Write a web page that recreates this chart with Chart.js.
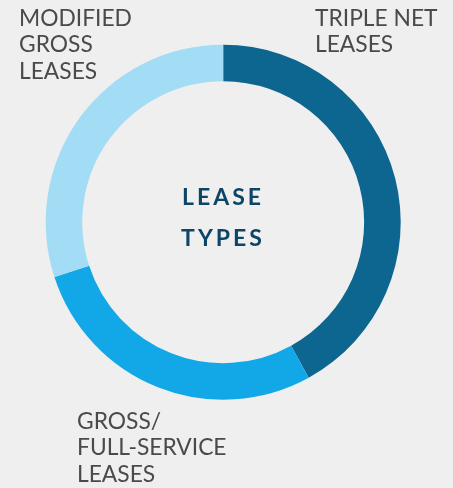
<!DOCTYPE html>
<html>
<head>
<meta charset="utf-8">
<script src="https://cdn.jsdelivr.net/npm/chart.js@4"></script>
<style>
  html, body { margin:0; padding:0; background:#efefef; }
  #wrap { position:relative; width:453px; height:488px; overflow:hidden; }
  canvas { position:absolute; left:0; top:0; }
  .lbl { position:absolute; font-family:Lato, sans-serif; font-size:22.8px; line-height:26.3px; color:#4a4a4a; white-space:nowrap; }
  .center { position:absolute; left:0; width:446px; text-align:center; font-family:Lato, sans-serif; font-weight:bold; font-size:23px; line-height:40.5px; letter-spacing:3px; color:#0d4566; }
</style>
</head>
<body>
<div id="wrap">
  <canvas id="c" width="453" height="488"></canvas>
  <div class="lbl" id="l0" style="left:315px;top:4px;"></div>
  <div class="lbl" id="l1" style="left:77px;top:407px;"></div>
  <div class="lbl" id="l2" style="left:19px;top:4px;"></div>
  <div class="center" id="ct" style="top:176px;"></div>
</div>
<script>
const categories = ["TRIPLE NET|LEASES", "GROSS/|FULL-SERVICE|LEASES", "MODIFIED|GROSS|LEASES"];
const values = [42, 28, 30];
const colors = ["#0d668f", "#12a8e8", "#a3dcf5"];
const centerTitle = ["LEASE", "TYPES"];

categories.forEach((c, i) => {
  const el = document.getElementById('l' + i);
  c.split('|').forEach((line, j) => {
    if (j) el.appendChild(document.createElement('br'));
    el.appendChild(document.createTextNode(line));
  });
});
const ct = document.getElementById('ct');
centerTitle.forEach((line, j) => {
  if (j) ct.appendChild(document.createElement('br'));
  ct.appendChild(document.createTextNode(line));
});

new Chart(document.getElementById('c'), {
  type: 'doughnut',
  data: {
    labels: categories.map(c => c.replace(/\|/g, ' ')),
    datasets: [{ data: values, backgroundColor: colors, borderWidth: 0 }]
  },
  options: {
    responsive: false,
    animation: false,
    cutout: '79.4%',
    layout: { padding: { left: 45.7, right: 52.3, top: 44.7, bottom: 88.3 } },
    plugins: { legend: { display: false }, tooltip: { enabled: false } }
  }
});
</script>
</body>
</html>
